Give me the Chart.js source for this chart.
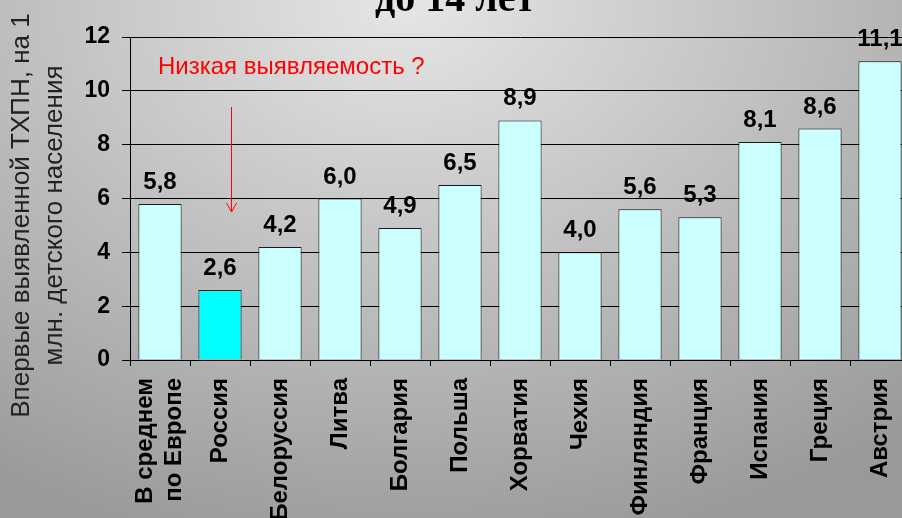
<!DOCTYPE html>
<html lang="ru">
<head>
    <meta charset="UTF-8">
    <title>ТХПН у детей до 14 лет</title>
    <script src="https://cdn.jsdelivr.net/npm/chart.js"></script>
    <style>
        html, body { margin: 0; padding: 0; overflow: hidden; }
        .wrap {
            position: relative;
            width: 902px;
            height: 518px;
            overflow: hidden;
            background: radial-gradient(ellipse 85% 110% at 45% 0%, #e6e6e6 0%, #999999 100%);
        }
        /* график чуть больше окна: заголовок и правый край обрезаны, как на слайде */
        #chart { position: absolute; left: 0; top: -30px; }
    </style>
</head>
<body>
<div class="wrap">
    <canvas id="chart" width="912" height="548"></canvas>
</div>
<script>
    // данные
    const countries = [
        ['В среднем', 'по Европе'], 'Россия', 'Белоруссия', 'Литва', 'Болгария', 'Польша',
        'Хорватия', 'Чехия', 'Финляндия', 'Франция', 'Испания', 'Греция', 'Австрия'
    ];
    const values = [5.8, 2.6, 4.2, 6.0, 4.9, 6.5, 8.9, 4.0, 5.6, 5.3, 8.1, 8.6, 11.1];
    const yTicks = [0, 2, 4, 6, 8, 10, 12];
    const highlightIndex = 1; // Россия

    const titleText = 'до 14 лет';
    const yTitle = ['Впервые выявленной ТХПН, на 1', 'млн. детского населения'];
    const noteText = 'Низкая выявляемость ?';
    const noteY = 10.62;
    const arrowFrom = 9.4, arrowTo = 5.5;

    const fmt = v => v.toFixed(1).replace('.', ',');

    // подписи значений над столбцами
    const valueLabels = {
        id: 'valueLabels',
        afterDatasetsDraw(chart) {
            const ctx = chart.ctx;
            const meta = chart.getDatasetMeta(0);
            ctx.save();
            ctx.font = 'bold 24px Arial, "Liberation Sans"';
            ctx.fillStyle = '#000';
            ctx.textAlign = 'center';
            ctx.textBaseline = 'alphabetic';
            meta.data.forEach((bar, i) => {
                ctx.fillText(fmt(values[i]), bar.x, bar.y - 15);
            });
            ctx.restore();
        }
    };

    // первая подпись в две строки — центрируем блок по делению
    const centerMultiline = {
        id: 'centerMultiline',
        beforeDraw(chart) {
            const items = chart.scales.x.getLabelItems();
            items.forEach(it => {
                if (Array.isArray(it.label) && !it._shifted) {
                    it.options.translation[0] -= it.font.lineHeight * (it.label.length - 1) / 2;
                    it._shifted = true;
                }
            });
        }
    };

    // подпись оси Y, красная пометка и стрелка
    const extras = {
        id: 'extras',
        afterDraw(chart) {
            const ctx = chart.ctx;
            const x = chart.scales.x, y = chart.scales.y;
            const area = chart.chartArea;
            ctx.save();

            ctx.font = '26px Arial, "Liberation Sans"';
            ctx.fillStyle = '#222';
            ctx.textAlign = 'center';
            ctx.textBaseline = 'middle';
            const cy = (area.top + area.bottom) / 2 + 17;
            yTitle.forEach((line, i) => {
                ctx.save();
                ctx.translate(y.left + 22 + i * 33, cy);
                ctx.rotate(-Math.PI / 2);
                ctx.fillText(line, 0, 0);
                ctx.restore();
            });

            ctx.font = '24px Arial, "Liberation Sans"';
            ctx.fillStyle = '#ff0000';
            ctx.textAlign = 'left';
            ctx.textBaseline = 'alphabetic';
            ctx.fillText(noteText, x.getPixelForValue(0) - 2, y.getPixelForValue(noteY));

            const ax = Math.round(x.getPixelForValue(highlightIndex) + 11) + 0.5;
            const y1 = y.getPixelForValue(arrowFrom), y2 = y.getPixelForValue(arrowTo);
            ctx.strokeStyle = '#ff0000';
            ctx.lineWidth = 1;
            ctx.beginPath();
            ctx.moveTo(ax, y1);
            ctx.lineTo(ax, y2);
            ctx.moveTo(ax - 5, y2 - 9);
            ctx.lineTo(ax, y2);
            ctx.lineTo(ax + 5, y2 - 9);
            ctx.stroke();
            ctx.restore();
        }
    };

    new Chart(document.getElementById('chart'), {
        type: 'bar',
        data: {
            labels: countries,
            datasets: [{
                data: values,
                backgroundColor: values.map((v, i) => i === highlightIndex ? '#00ffff' : '#ccffff'),
                borderColor: '#1a1a1a',
                borderWidth: 1,
                categoryPercentage: 1,
                barPercentage: 0.72
            }]
        },
        options: {
            responsive: false,
            animation: false,
            events: [],
            layout: { padding: { left: 0, right: 2, top: 0, bottom: 0 } },
            plugins: {
                legend: { display: false },
                tooltip: { enabled: false },
                title: {
                    display: true,
                    text: titleText,
                    color: '#000',
                    font: { family: '"Liberation Serif", "Times New Roman", serif', size: 40, weight: 'bold' },
                    padding: { top: 7, bottom: 12 }
                }
            },
            scales: {
                x: {
                    grid: { display: true, drawOnChartArea: false, offset: true, tickLength: 6, color: '#000' },
                    border: { color: '#000', width: 1 },
                    ticks: {
                        autoSkip: false,
                        minRotation: 90,
                        maxRotation: 90,
                        padding: 12,
                        color: '#000',
                        font: { family: 'Arial, "Liberation Sans"', size: 24, weight: 'bold' }
                    },
                    afterFit(s) {
                        s.height = 158;
                        s.paddingLeft = 0;
                        s.paddingRight = 0;
                    }
                },
                y: {
                    min: 0,
                    max: 12,
                    afterBuildTicks(s) { s.ticks = yTicks.map(v => ({ value: v })); },
                    grid: { color: '#000', tickLength: 8, lineWidth: 1 },
                    border: { color: '#000', width: 1 },
                    ticks: {
                        padding: 12,
                        color: '#000',
                        font: { family: 'Arial, "Liberation Sans"', size: 23, weight: 'bold' }
                    },
                    afterFit(s) { s.width = 130; }
                }
            }
        },
        plugins: [valueLabels, centerMultiline, extras]
    });
</script>
</body>
</html>
